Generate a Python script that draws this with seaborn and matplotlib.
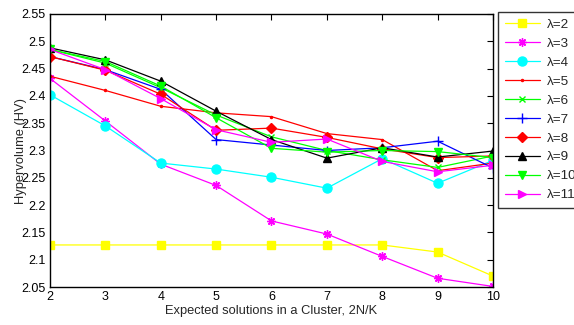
import matplotlib
matplotlib.use("Agg")
import matplotlib.pyplot as plt
import seaborn as sns
import pandas as pd

sns.set_style("white")
plt.rcParams["font.family"] = ["Liberation Sans", "DejaVu Sans"]

x_vals = [2, 3, 4, 5, 6, 7, 8, 9, 10]

hv_l2 = [2.127, 2.127, 2.127, 2.127, 2.127, 2.127, 2.127, 2.114, 2.070]
hv_l3 = [2.432, 2.354, 2.275, 2.236, 2.171, 2.147, 2.106, 2.066, 2.051]
hv_l4 = [2.402, 2.345, 2.277, 2.266, 2.251, 2.231, 2.285, 2.240, 2.282]
hv_l5 = [2.436, 2.410, 2.381, 2.369, 2.362, 2.331, 2.320, 2.263, 2.277]
hv_l6 = [2.485, 2.460, 2.415, 2.365, 2.325, 2.300, 2.283, 2.269, 2.290]
hv_l7 = [2.472, 2.448, 2.412, 2.320, 2.310, 2.300, 2.305, 2.317, 2.268]
hv_l8 = [2.472, 2.447, 2.403, 2.337, 2.341, 2.324, 2.303, 2.287, 2.290]
hv_l9 = [2.488, 2.466, 2.427, 2.372, 2.320, 2.286, 2.305, 2.288, 2.299]
hv_l10 = [2.485, 2.463, 2.418, 2.360, 2.304, 2.297, 2.300, 2.298, 2.287]
hv_l11 = [2.485, 2.448, 2.395, 2.338, 2.315, 2.321, 2.280, 2.261, 2.273]

labels = ["λ=2", "λ=3", "λ=4", "λ=5", "λ=6", "λ=7", "λ=8", "λ=9", "λ=10", "λ=11"]
series = [hv_l2, hv_l3, hv_l4, hv_l5, hv_l6, hv_l7, hv_l8, hv_l9, hv_l10, hv_l11]

colors = ["#ffff00", "#ff00ff", "#00ffff", "#ff0000", "#00ff00",
          "#0000ff", "#ff0000", "#000000", "#00ff00", "#ff00ff"]
# (8, 2, 0) is an eight-armed asterisk
markers = ["s", (8, 2, 0), "o", ".", "x", "+", "D", "^", "v", ">"]
msizes = [5.5, 6, 6.5, 3, 4, 6.5, 5, 6, 6, 6]

fig = plt.figure(figsize=(5.74, 3.25), dpi=100)
ax = fig.add_axes([50 / 574, 1 - 287 / 325, 443 / 574, 273 / 325])

for lab, vals, c, m, ms in zip(labels, series, colors, markers, msizes):
    df = pd.DataFrame({"x": x_vals, "hv": vals})
    sns.lineplot(data=df, x="x", y="hv", ax=ax, color=c, marker=m,
                 markersize=ms, markeredgecolor=c, markerfacecolor=c,
                 markeredgewidth=1.0, linewidth=0.9, label=lab)

ax.set_xlim(2, 10)
ax.set_ylim(2.05, 2.55)
ax.set_xticks(x_vals)
ax.set_yticks([2.05, 2.1, 2.15, 2.2, 2.25, 2.3, 2.35, 2.4, 2.45, 2.5, 2.55])
ax.set_yticklabels(["2.05", "2.1", "2.15", "2.2", "2.25", "2.3", "2.35",
                    "2.4", "2.45", "2.5", "2.55"])
ax.tick_params(direction="in", length=4, width=0.8, top=True, right=True,
               labelsize=9, pad=3, colors="black")
for sp in ax.spines.values():
    sp.set_color("black")
    sp.set_linewidth(1.0)

ax.set_xlabel("Expected solutions in a Cluster, 2N/K", fontsize=9.3, labelpad=1)
ax.set_ylabel("Hypervolume (HV)", fontsize=9.3)
ax.yaxis.set_label_coords(-0.052, 0.5)

handles, lbls = ax.get_legend_handles_labels()
ax.get_legend().remove()
leg = fig.legend(handles, lbls, loc="upper left",
                 bbox_to_anchor=(498 / 574, 1 - 12 / 325), borderaxespad=0,
                 fontsize=9.7, handlelength=2.6, handletextpad=0.5,
                 labelspacing=0.48, borderpad=0.5, fancybox=False,
                 frameon=True, numpoints=1)
leg.get_frame().set_edgecolor("black")
leg.get_frame().set_linewidth(1.0)

fig.savefig("out.png", dpi=100)
